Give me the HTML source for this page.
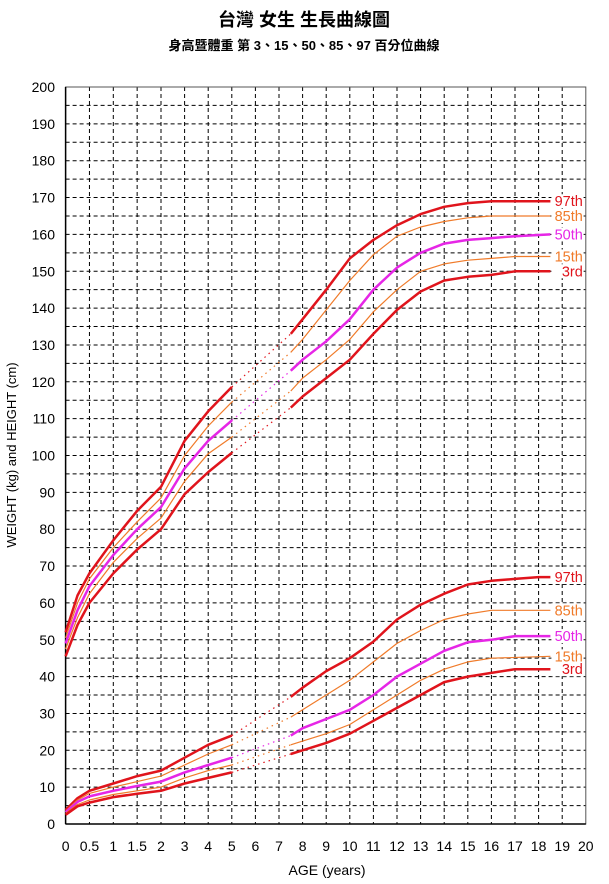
<!DOCTYPE html>
<html><head><meta charset="utf-8"><style>
body{margin:0;background:#fff;}
svg{display:block;font-family:"Liberation Sans","Noto Sans CJK TC",sans-serif;}
</style></head><body>
<svg id="s" width="609" height="884" xmlns="http://www.w3.org/2000/svg">
<text x="304" y="26" text-anchor="middle" font-size="18" font-weight="bold" font-family="'Liberation Sans','Noto Sans CJK TC',sans-serif">台灣 女生 生長曲線圖</text>
<text x="304" y="50" text-anchor="middle" font-size="13" font-weight="bold" font-family="'Liberation Sans','Noto Sans CJK TC',sans-serif">身高暨體重 第 3、15、50、85、97 百分位曲線</text>
<text x="16" y="455" text-anchor="middle" font-size="13" transform="rotate(-90 16 455)">WEIGHT (kg) and HEIGHT (cm)</text>
<text x="327" y="875" text-anchor="middle" font-size="14">AGE (years)</text>
<g id="grid"></g><g id="curves"></g><g id="labs"></g>
</svg>
<script>
var NS="http://www.w3.org/2000/svg";
function X(a){return a<=2?65.6+a*47.7:161+(a-2)*23.6;}
function Y(v){return 824-v*3.685;}
function el(t,at,par,txt){var e=document.createElementNS(NS,t);for(var k in at)e.setAttribute(k,at[k]);if(txt!==undefined)e.textContent=txt;document.getElementById(par).appendChild(e);return e;}
var xs=[0,0.5,1,1.5,2];for(var i=3;i<=20;i++)xs.push(i);
xs.forEach(function(a,i){var x=X(a);if(i>0&&i<xs.length-1)el('line',{x1:x,y1:Y(200),x2:x,y2:Y(0),stroke:'#000','stroke-width':1,'stroke-dasharray':'4,3'},'grid');
el('text',{x:x,y:851,'text-anchor':'middle','font-size':14},'grid',String(a));});
for(var v=5;v<200;v+=5){el('line',{x1:X(0),y1:Y(v),x2:X(20),y2:Y(v),stroke:'#000','stroke-width':1,'stroke-dasharray':'4,3'},'grid');}
for(var v=0;v<=200;v+=10){el('text',{x:55,y:Y(v)+5,'text-anchor':'end','font-size':14},'grid',String(v));}
el('rect',{x:X(0),y:Y(200),width:X(20)-X(0),height:Y(0)-Y(200),fill:'none',stroke:'#555','stroke-width':1},'grid');
el('line',{x1:X(0),y1:Y(200),x2:X(0),y2:Y(0),stroke:'#000','stroke-width':1.5},'grid');
el('line',{x1:X(0),y1:Y(0),x2:X(20),y2:Y(0),stroke:'#000','stroke-width':1.5},'grid');
var RED='#e0141c',OR='#f07b2a',MAG='#e626e6';
var series=[
[RED,2.5,'97th',[[0,52],[.25,62],[.5,68],[1,77],[1.5,85],[2,91.5],[3,104],[4,112],[5,118.6]],[[7.5,133],[8,137],[9,145],[10,153.5],[11,158.5],[12,162.5],[13,165.5],[14,167.5],[15,168.5],[16,169],[17,169],[18.5,169]]],
[OR,1.2,'85th',[[0,50.5],[.25,60],[.5,66.5],[1,75],[1.5,82],[2,88.5],[3,100],[4,108],[5,114.5]],[[7.5,128],[8,131.5],[9,139.5],[10,147.5],[11,154.5],[12,159.5],[13,162],[14,163.5],[15,164.5],[16,165],[18.5,165]]],
[MAG,2.5,'50th',[[0,49],[.25,58],[.5,64.5],[1,73],[1.5,80],[2,86],[3,96.5],[4,104],[5,109.5]],[[7.5,123],[8,126],[9,131],[10,137],[11,145],[12,151],[13,155],[14,157.5],[15,158.5],[16,159],[17,159.5],[18.5,160]]],
[OR,1.2,'15th',[[0,47.5],[.25,56],[.5,62.5],[1,71],[1.5,77.5],[2,83],[3,93],[4,100.5],[5,105]],[[7.5,117.5],[8,121],[9,126],[10,131.5],[11,139],[12,145],[13,150],[14,152],[15,153],[16,153.5],[17,154],[18.5,154]]],
[RED,2.5,'3rd',[[0,45.5],[.25,54],[.5,60],[1,68],[1.5,74.5],[2,80],[3,89.5],[4,95.5],[5,100.7]],[[7.5,113],[8,116],[9,121],[10,126],[11,133],[12,139.5],[13,144.5],[13.5,146],[14,147.5],[15,148.5],[16,149],[17,150],[18.5,150]]],
[RED,2.5,'97th',[[0,3.8],[.25,7],[.5,9],[1,11],[1.5,13],[2,14.5],[3,18],[4,21.5],[5,24]],[[7.5,34.5],[8,37],[9,41.5],[10,45],[11,49.5],[12,55.5],[13,59.5],[14,62.5],[15,65],[16,66],[17,66.5],[18,67],[18.5,67]]],
[OR,1.2,'85th',[[0,3.5],[.25,6.5],[.5,8.3],[1,10],[1.5,11.5],[2,13],[3,16],[4,19],[5,21.5]],[[7.5,29],[8,31],[9,35],[10,39],[11,44],[12,49],[13,52.5],[14,55.5],[15,57],[16,58],[18.5,58]]],
[MAG,2.5,'50th',[[0,3.2],[.25,6],[.5,7.5],[1,9],[1.5,10.3],[2,11.5],[3,14],[4,16],[5,18]],[[7.5,24],[8,26],[9,28.5],[10,31],[11,35],[12,40],[13,43.5],[14,47],[15,49.3],[16,50],[17,51],[18.5,51]]],
[OR,1.2,'15th',[[0,2.9],[.25,5.3],[.5,6.5],[1,8],[1.5,9],[2,10],[3,12.5],[4,14.5],[5,16]],[[7.5,21.5],[8,22.5],[9,24.5],[10,27],[11,31],[12,35],[13,39],[14,42],[15,44],[16,45],[18.5,45.5]]],
[RED,2.5,'3rd',[[0,2.5],[.25,4.8],[.5,5.8],[1,7.3],[1.5,8.2],[2,9],[3,11],[4,12.5],[5,14]],[[7.5,19],[8,20],[9,22],[10,24.5],[11,28],[12,31.5],[13,35],[14,38.5],[15,40],[16,41],[17,42],[18.5,42]]]
];
function pts(a){return a.map(function(p){return X(p[0]).toFixed(1)+','+Y(p[1]).toFixed(1);}).join(' ');}
series.forEach(function(s){
var a=s[3],b=s[4];
el('polyline',{points:pts(a),fill:'none',stroke:s[0],'stroke-width':s[1],'stroke-linejoin':'round'},'curves');
el('polyline',{points:pts(b),fill:'none',stroke:s[0],'stroke-width':s[1],'stroke-linejoin':'round'},'curves');
el('polyline',{points:pts([a[a.length-1],b[0]]),fill:'none',stroke:s[0],'stroke-width':1.2,'stroke-dasharray':'1.5,4'},'curves');
var lv=b[b.length-1][1];
el('rect',{x:X(18.5)+1,y:Y(lv)-7,width:31,height:14,fill:'#fff'},'labs');
el('text',{x:X(20)-3,y:Y(lv)+5,'text-anchor':'end','font-size':14.5,fill:s[0]},'labs',s[2]);
});
</script>
</body></html>
